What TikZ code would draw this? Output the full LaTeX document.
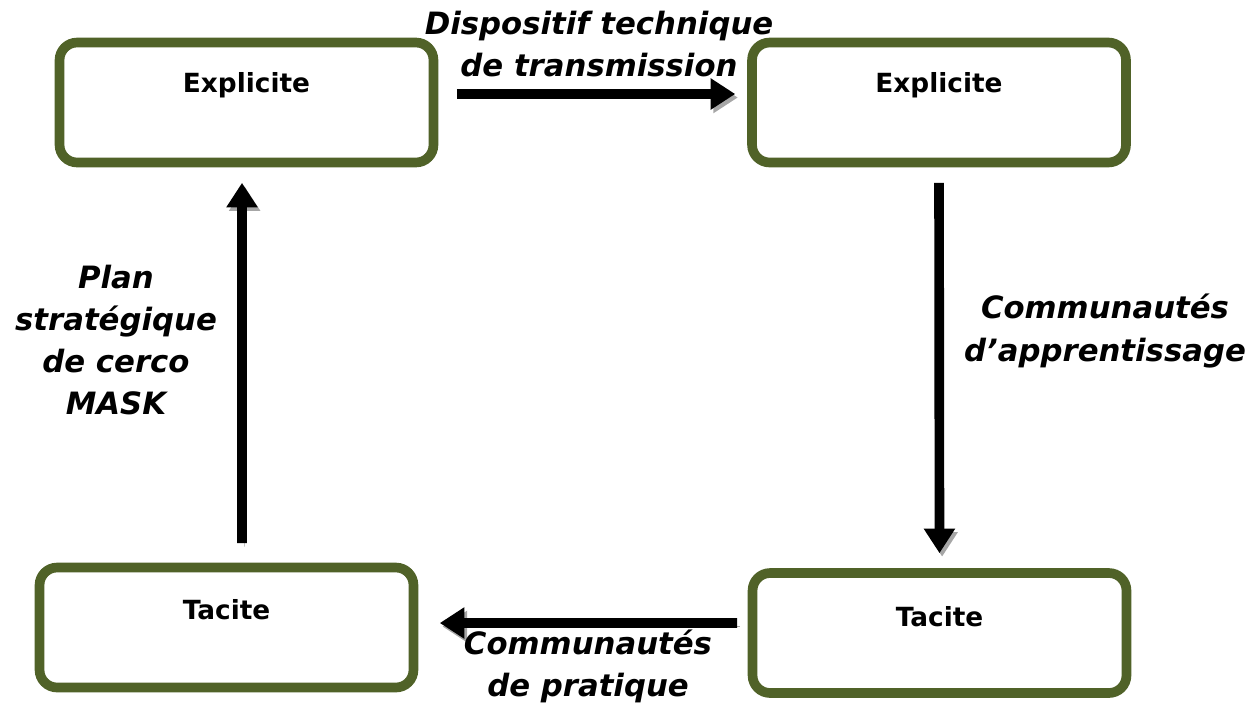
\documentclass[tikz,border=0pt]{standalone}
\usepackage{fontspec}
\setmainfont{DejaVu Sans}
\usetikzlibrary{arrows.meta,positioning}
\definecolor{olivebox}{RGB}{80,98,40}

\begin{document}
\begin{tikzpicture}[
  x=0.02cm, y=-0.02cm,
  box/.style={rectangle, draw=olivebox, line width=5.5pt, rounded corners=10pt,
              minimum width=7.48cm, minimum height=2.4cm, fill=white},
  boxtxt/.style={font=\fontsize{15}{18}\selectfont\bfseries},
  lbl/.style={font=\fontsize{17.5}{24}\selectfont\bfseries\itshape, align=center},
  arr/.style={-{Triangle[length=14pt,width=17pt]}, line width=5.5pt,
              preaction={draw=black!35, transform canvas={shift={(1.5pt,-2pt)}}}}
]
  \useasboundingbox (0,0) rectangle (1256,708);

  \node[box, label={[boxtxt,yshift=0.35cm]center:Explicite}] (expl1) at (246.5,102.5) {};
  \node[box, label={[boxtxt,yshift=0.35cm]center:Explicite}] (expl2) at (939,102.5) {};
  \node[box, label={[boxtxt,yshift=0.35cm]center:Tacite}]    (tac1)  at (226.5,627.5) {};
  \node[box, label={[boxtxt,yshift=0.32cm]center:Tacite}]    (tac2)  at (939.5,633) {};

  \draw[arr, shorten <=0.37cm, shorten >=0.24cm]
    ([yshift=0.17cm]expl1.east) -- ([yshift=0.17cm]expl2.west);
  \draw[arr, shorten <=0.31cm, shorten >=0.3cm] (expl2.south) -- (tac2.north);
  \draw[arr, shorten <=0.21cm, shorten >=0.43cm]
    ([yshift=0.2cm]tac2.west) -- ([yshift=0.09cm]tac1.east);
  \draw[arr, shorten <=0.39cm, shorten >=0.31cm]
    ([xshift=0.31cm]tac1.north) -- ([xshift=-0.09cm]expl1.south);

  \node[lbl] (dispo) at (599,44)  {Dispositif technique\\de transmission};
  \node[lbl] (appr)  at (1105,331) {Communautés\\d’apprentissage};
  \node[lbl] (prat)  at (588,666) {Communautés\\de pratique};
  \node[lbl] (plan)  at (116,340) {Plan\\stratégique\\de cerco\\MASK};
\end{tikzpicture}
\end{document}
